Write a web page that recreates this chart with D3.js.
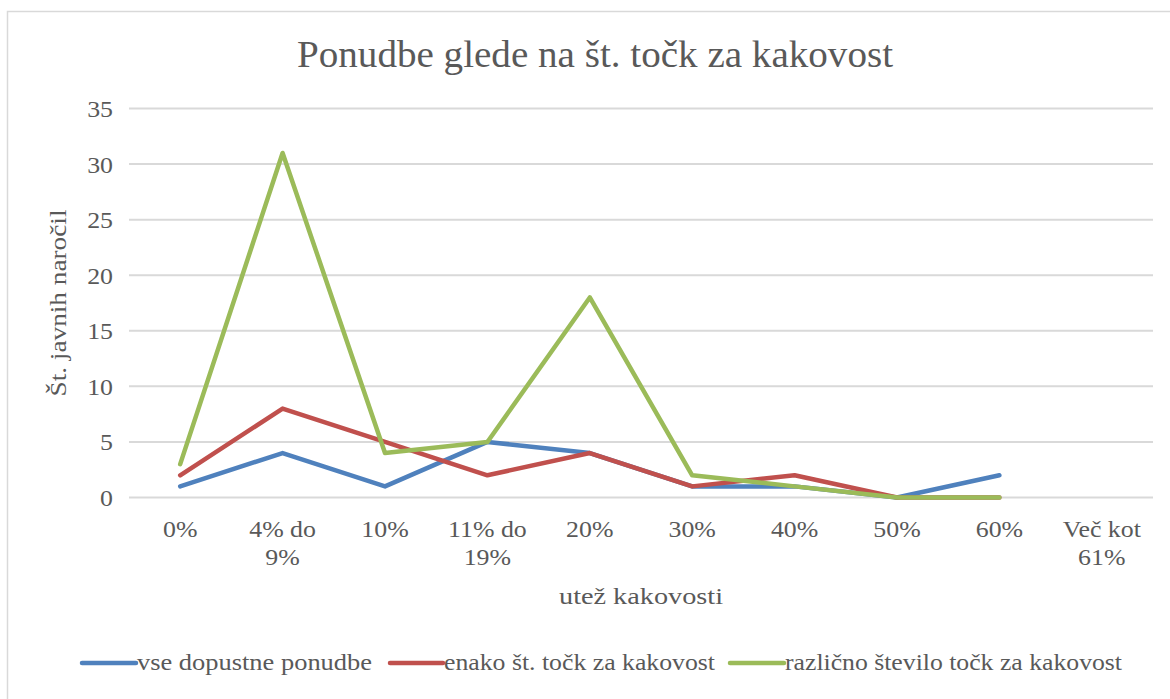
<!DOCTYPE html>
<html>
<head>
<meta charset="utf-8">
<script src="https://cdn.jsdelivr.net/npm/d3@7"></script>
<style>
  html, body { margin: 0; padding: 0; background: #fff; }
  svg { display: block; }
  text { font-family: "Liberation Serif", "DejaVu Serif", serif; fill: #595959; }
</style>
</head>
<body>
<svg id="chart" width="1170" height="699"></svg>
<script>
// ---- data ----
const categories = ["0%", "4% do 9%", "10%", "11% do 19%", "20%", "30%", "40%", "50%", "60%", "Več kot 61%"];
const categoryLines = [["0%"], ["4% do", "9%"], ["10%"], ["11% do", "19%"], ["20%"], ["30%"], ["40%"], ["50%"], ["60%"], ["Več kot", "61%"]];
const seriesNames = ["vse dopustne ponudbe", "enako št. točk za kakovost", "različno število točk za kakovost"];
const vseDopustne = [1, 4, 1, 5, 4, 1, 1, 0, 2, null];
const enakoTock = [2, 8, 5, 2, 4, 1, 2, 0, 0, null];
const razlicnoTock = [3, 31, 4, 5, 18, 2, 1, 0, 0, null];
const yTicks = [0, 5, 10, 15, 20, 25, 30, 35];
const titleText = "Ponudbe glede na št. točk za kakovost";
const xTitle = "utež kakovosti";
const yTitle = "Št. javnih naročil";

const colors = ["#4f81bd", "#c0504d", "#9bbb59"];
const seriesValues = [vseDopustne, enakoTock, razlicnoTock];

const svg = d3.select("#chart");

// border
svg.append("rect").attr("x", 7.5).attr("y", 11.5).attr("width", 1180).attr("height", 700)
  .attr("fill", "none").attr("stroke", "#d9d9d9").attr("stroke-width", 1.5);

const x = d3.scaleBand().domain(categories).range([129, 1153]);
const y = d3.scaleLinear().domain([0, 35]).range([497.5, 108.5]);

// gridlines
svg.append("g").selectAll("line").data(yTicks).join("line")
  .attr("x1", 129).attr("x2", 1153)
  .attr("y1", d => y(d)).attr("y2", d => y(d))
  .attr("stroke", "#d9d9d9").attr("stroke-width", 2);

// y tick labels
svg.append("g").selectAll("text").data(yTicks).join("text")
  .attr("x", 113).attr("y", d => y(d)).attr("dy", "0.36em")
  .attr("text-anchor", "end").attr("font-size", 23.5)
  .attr("transform", d => `translate(113,0) scale(1.1,1) translate(-113,0)`)
  .text(d => d);

// x tick labels
const xl = svg.append("g").selectAll("text").data(categories).join("text")
  .attr("text-anchor", "middle").attr("font-size", 23.5);
xl.each(function(d, i) {
  const t = d3.select(this);
  const cx = x(d) + x.bandwidth() / 2;
  t.attr("transform", `translate(${cx},0) scale(1.1,1) translate(${-cx},0)`);
  categoryLines[i].forEach((ln, j) => {
    t.append("tspan").attr("x", cx).attr("y", 537 + j * 28).text(ln);
  });
});

// lines
const line = d3.line()
  .defined(d => d.v != null)
  .x(d => x(d.c) + x.bandwidth() / 2)
  .y(d => y(d.v));

seriesValues.forEach((vals, k) => {
  const pts = categories.map((c, i) => ({ c, v: vals[i] }));
  svg.append("path").datum(pts).attr("d", line)
    .attr("fill", "none").attr("stroke", colors[k]).attr("stroke-width", 4.5)
    .attr("stroke-linejoin", "round").attr("stroke-linecap", "round");
});

// title
svg.append("text").attr("x", 595).attr("y", 67).attr("text-anchor", "middle")
  .attr("font-size", 37).attr("textLength", 596).attr("lengthAdjust", "spacingAndGlyphs")
  .text(titleText);

// axis titles
svg.append("text").attr("x", 641).attr("y", 604).attr("text-anchor", "middle")
  .attr("font-size", 24).attr("textLength", 164).attr("lengthAdjust", "spacingAndGlyphs")
  .text(xTitle);
svg.append("text").attr("transform", "translate(66,303) rotate(-90)").attr("text-anchor", "middle")
  .attr("font-size", 24).attr("textLength", 187).attr("lengthAdjust", "spacingAndGlyphs")
  .text(yTitle);

// legend
const legendPos = [
  { x1: 82, x2: 136, tx: 137, tw: 235 },
  { x1: 390, x2: 443, tx: 444, tw: 271 },
  { x1: 730, x2: 784, tx: 785, tw: 337 }
];
const lg = svg.append("g").selectAll("g").data(seriesNames).join("g");
lg.append("line")
  .attr("x1", (d, i) => legendPos[i].x1).attr("x2", (d, i) => legendPos[i].x2)
  .attr("y1", 663).attr("y2", 663)
  .attr("stroke", (d, i) => colors[i]).attr("stroke-width", 4.5).attr("stroke-linecap", "round");
lg.append("text")
  .attr("x", (d, i) => legendPos[i].tx).attr("y", 670)
  .attr("font-size", 23)
  .attr("textLength", (d, i) => legendPos[i].tw).attr("lengthAdjust", "spacingAndGlyphs")
  .text(d => d);
</script>
</body>
</html>
